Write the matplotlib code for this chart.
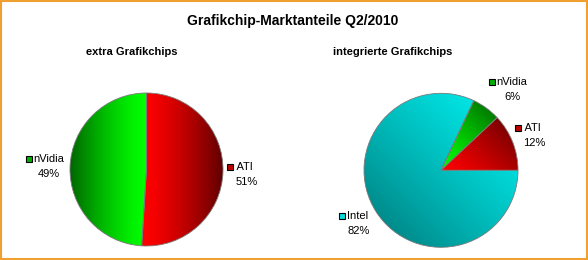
import numpy as np
import matplotlib
matplotlib.use("Agg")
import matplotlib.pyplot as plt
from matplotlib.colors import to_rgb
from matplotlib.patches import Rectangle

plt.rcParams['font.family'] = ['Liberation Sans', 'DejaVu Sans']

title = "Grafikchip-Marktanteile Q2/2010"

# extra Grafikchips
ext_labels = ["ATI", "nVidia"]
ext_values = [51, 49]

# integrierte Grafikchips
int_labels = ["ATI", "nVidia", "Intel"]
int_values = [12, 6, 82]

# gradient colours per manufacturer (light, dark)
colors = {
    "ATI": ("#ff0000", "#5e0000"),
    "nVidia": ("#00ff00", "#006200"),
    "Intel": ("#00f2f2", "#007676"),
}
marker_col = {"ATI": "#c00000", "nVidia": "#00b000", "Intel": "#00e0e0"}

W, H = 588, 260
fig = plt.figure(figsize=(W / 100, H / 100), dpi=100)
ax = fig.add_axes([0, 0, 1, 1])
ax.set_axis_off()


def gradient_fill(ax, wedge, light, dark, direction, gamma=1.0):
    v = wedge.get_path().vertices
    x0, x1 = v[:, 0].min(), v[:, 0].max()
    y0, y1 = v[:, 1].min(), v[:, 1].max()
    n = 200
    xs = np.linspace(x0, x1, n)
    ys = np.linspace(y0, y1, n)
    X, Y = np.meshgrid(xs, ys)
    d = np.array(direction, float)
    d /= np.linalg.norm(d)
    p = X * d[0] + Y * d[1]
    t = (p - p.min()) / (p.max() - p.min())
    t = t ** gamma
    c0, c1 = np.array(to_rgb(light)), np.array(to_rgb(dark))
    img = c0[None, None, :] * (1 - t[..., None]) + c1[None, None, :] * t[..., None]
    im = ax.imshow(img, extent=(x0, x1, y0, y1), origin="lower",
                   interpolation="bilinear", zorder=1)
    im.set_clip_path(wedge)


def draw_pie(ax, values, labels, center, radius, startangle, counterclock, dirs, gamma):
    wedges, _ = ax.pie(values, startangle=startangle, counterclock=counterclock,
                       center=center, radius=radius, frame=True,
                       wedgeprops=dict(facecolor="none", edgecolor="#7a7a7a",
                                       linewidth=0.6, zorder=2))
    for w, lab, dr in zip(wedges, labels, dirs):
        light, dark = colors[lab]
        gradient_fill(ax, w, light, dark, dr, gamma=gamma)
    return wedges


draw_pie(ax, ext_values, ext_labels, (146.5, H - 169.5), 76.5, 90, False,
         [(1, 0), (-1, 0)], 1.4)
draw_pie(ax, int_values, int_labels, (441, H - 170.3), 77, 0, True,
         [(1, 1), (1, 1), (-1, -1)], 1.2)

ax.set_xlim(0, W)
ax.set_ylim(0, H)
ax.set_aspect("auto")
ax.set_axis_off()

# titles
ax.text(293, H - 21, title, ha="center", va="center", fontsize=10,
        fontweight="bold")
ax.text(132, H - 52, "extra Grafikchips", ha="center", va="center",
        fontsize=8, fontweight="bold")
ax.text(393, H - 52, "integrierte Grafikchips", ha="center", va="center",
        fontsize=8, fontweight="bold")

# data labels: (label, value, marker x, text y, percent centre x)
label_pos = [
    ("nVidia", ext_values[1], 28.5, 159, 49),
    ("ATI", ext_values[0], 230, 167, 247),
    ("nVidia", int_values[1], 491.5, 82, 512),
    ("ATI", int_values[0], 517.5, 128, 534),
    ("Intel", int_values[2], 342, 216, 359),
]
for lab, val, mx, my, px in label_pos:
    ax.plot(mx, H - my, marker="s", markersize=5, markerfacecolor=marker_col[lab],
            markeredgecolor="black", markeredgewidth=0.8, zorder=5)
    txt = lab if lab != "ATI" else " " + lab
    ax.text(mx + 4.5, H - my, txt, ha="left", va="center", fontsize=8)
    ax.text(px, H - my - 15, f"{val}%", ha="center", va="center", fontsize=8)

fig.patches.append(Rectangle((0.001, 0.002), 0.997, 0.995, transform=fig.transFigure,
                             fill=False, edgecolor="#f0a030", linewidth=1.5))

fig.savefig("out.png", dpi=100)
